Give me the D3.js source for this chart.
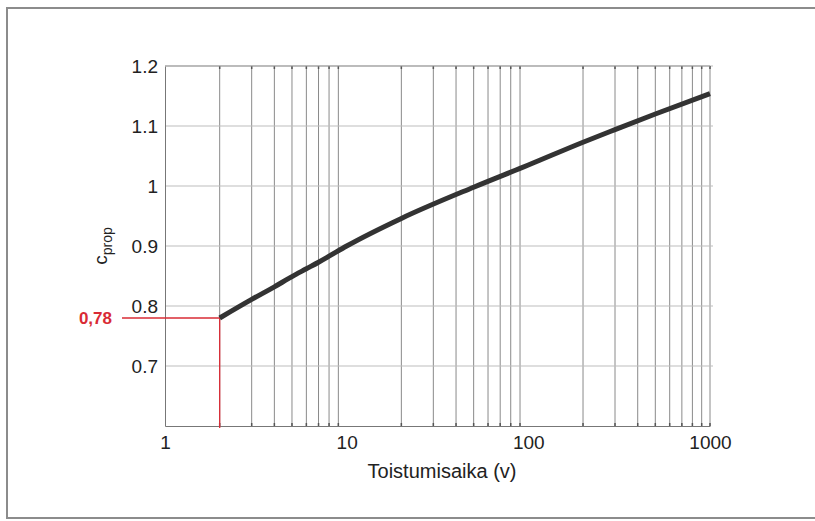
<!DOCTYPE html>
<html>
<head>
    <meta charset="utf-8">
    <title>c_prop vs Toistumisaika</title>
    <script src="https://d3js.org/d3.v7.min.js"></script>
    <style>
        body { margin: 0; background: #fff; }
        text { font-family: "Liberation Sans", Arial, sans-serif; fill: #222; }
        .vgrid { stroke: #8a8a8a; stroke-width: 1px; }
        .hgrid { stroke: #bdbdbd; stroke-width: 1px; }
        .curve { fill: none; stroke: #333; stroke-width: 5px; stroke-linejoin: round; }
        .annot { stroke: #d92b35; stroke-width: 1.3px; }
    </style>
</head>
<body>
<script>
    // return period (years) and the read c_prop values
    let returnPeriod = [2, 3, 4, 5, 6, 7, 8, 10, 20, 50, 100, 200, 300, 500, 1000];
    let cProp = [0.78, 0.811, 0.832, 0.849, 0.862, 0.873, 0.883, 0.9, 0.946, 0.998, 1.035, 1.073, 1.094, 1.12, 1.154];

    let yTicks = [0.7, 0.8, 0.9, 1, 1.1, 1.2];
    let xTicks = [1, 10, 100, 1000];
    let annotX = 2, annotY = 0.78, annotLabel = "0,78";

    let width = 815, height = 521;
    let plotLeft = 165, plotRight = 710, plotTop = 66, plotBottom = 426;

    let svg = d3.select("body").append("svg")
        .attr("width", width)
        .attr("height", height);

    // page frame from the scan
    svg.append("path")
        .attr("d", "M815,8 L7,8 L7,518 L815,518")
        .attr("fill", "none")
        .attr("stroke", "#8c8c8c")
        .attr("stroke-width", 2);

    let x = d3.scaleLog().domain([1, 1000]).range([plotLeft, plotRight]);
    let y = d3.scaleLinear().domain([0.6, 1.2]).range([plotBottom, plotTop]);

    // minor log positions
    let minor = [];
    [1, 10, 100].forEach(dec => {
        for (let k = 2; k <= 9; k++) minor.push(dec * k);
    });
    minor.push(1000);

    svg.append("g")
        .selectAll("line")
        .data(minor)
        .join("line")
        .attr("class", "vgrid")
        .attr("x1", d => x(d)).attr("x2", d => x(d))
        .attr("y1", plotTop).attr("y2", plotBottom);

    svg.append("g")
        .selectAll("line")
        .data(yTicks)
        .join("line")
        .attr("class", "hgrid")
        .attr("x1", plotLeft).attr("x2", plotRight + 3)
        .attr("y1", d => y(d)).attr("y2", d => y(d));

    // small tick dots at top / bottom of the vertical lines
    let tickG = svg.append("g").attr("stroke", "#555").attr("stroke-width", 1.5);
    tickG.selectAll("line.tb")
        .data(minor)
        .join("line")
        .attr("class", "tb")
        .attr("x1", d => x(d)).attr("x2", d => x(d))
        .attr("y1", plotTop).attr("y2", plotTop + 3);
    tickG.selectAll("line.bb")
        .data(minor)
        .join("line")
        .attr("class", "bb")
        .attr("x1", d => x(d)).attr("x2", d => x(d))
        .attr("y1", plotBottom - 3).attr("y2", plotBottom);

    // axes
    let yAxis = d3.axisLeft(y).tickValues(yTicks).tickSize(0).tickPadding(7)
        .tickFormat(d => d === 1 ? "1" : d3.format(".1f")(d));
    let gy = svg.append("g").attr("transform", `translate(${plotLeft},0)`).call(yAxis);
    gy.select(".domain").attr("stroke", "#777");
    gy.selectAll("text").attr("font-size", 19).attr("fill", "#222")
        .attr("font-family", "Liberation Sans, Arial, sans-serif");

    let xAxis = d3.axisBottom(x).tickValues(xTicks).tickSize(0).tickPadding(10)
        .tickFormat(d3.format("d"));
    let gx = svg.append("g").attr("transform", `translate(0,${plotBottom})`).call(xAxis);
    gx.select(".domain").attr("stroke", "#777");
    gx.selectAll("text").attr("font-size", 19).attr("fill", "#222")
        .attr("font-family", "Liberation Sans, Arial, sans-serif");

    svg.append("line")
        .attr("x1", plotLeft).attr("x2", plotRight)
        .attr("y1", plotTop).attr("y2", plotTop)
        .attr("stroke", "#999");

    // red annotation
    svg.append("line").attr("class", "annot")
        .attr("x1", 122).attr("x2", x(annotX))
        .attr("y1", y(annotY)).attr("y2", y(annotY));
    svg.append("line").attr("class", "annot")
        .attr("x1", x(annotX)).attr("x2", x(annotX))
        .attr("y1", y(annotY)).attr("y2", plotBottom + 2);
    svg.append("text")
        .attr("x", 112).attr("y", y(annotY) + 6)
        .attr("text-anchor", "end")
        .attr("font-size", 17).attr("font-weight", "bold")
        .style("fill", "#d92b35")
        .text(annotLabel);

    // curve
    let line = d3.line()
        .x((d, i) => x(returnPeriod[i]))
        .y(d => y(d))
        .curve(d3.curveMonotoneX);
    svg.append("path")
        .attr("class", "curve")
        .attr("d", line(cProp));

    // axis labels
    svg.append("text")
        .attr("x", 442).attr("y", 478)
        .attr("text-anchor", "middle")
        .attr("font-size", 20)
        .text("Toistumisaika (v)");

    let yl = svg.append("text")
        .attr("transform", "translate(107,246) rotate(-90)")
        .attr("text-anchor", "middle")
        .attr("font-size", 19);
    yl.append("tspan").text("c");
    yl.append("tspan").attr("font-size", 14).attr("dy", 5).text("prop");
</script>
</body>
</html>
